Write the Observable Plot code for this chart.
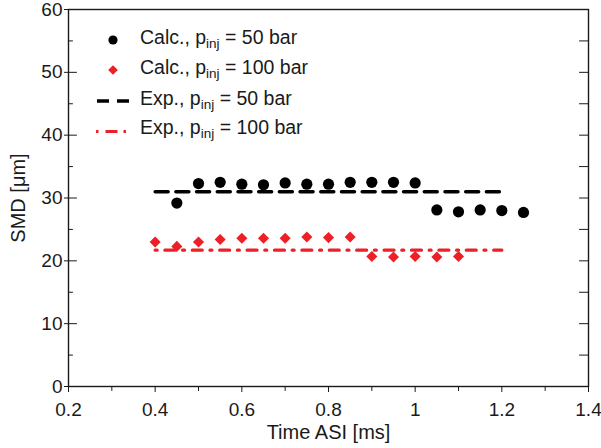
<!DOCTYPE html>
<html><head><meta charset="utf-8">
<script src="https://cdn.jsdelivr.net/npm/d3@7"></script>
<script src="https://cdn.jsdelivr.net/npm/@observablehq/plot@0.6"></script>
<style>
html,body{margin:0;padding:0;background:#fff;}
#wrap{position:relative;width:601px;height:448px;font-family:"Liberation Sans",Arial,Helvetica,sans-serif;}
#legend{position:absolute;left:0;top:0;}
</style></head><body>
<div id="wrap"></div>
<script>
// ---- data ----
const calcTime50 = [0.45,0.5,0.55,0.6,0.65,0.7,0.75,0.8,0.85,0.9,0.95,1.0,1.05,1.1,1.15,1.2,1.25];
const calc50 = [29.2,32.3,32.5,32.2,32.1,32.4,32.2,32.2,32.5,32.5,32.5,32.4,28.1,27.8,28.1,28.0,27.7];
const calcTime100 = [0.4,0.45,0.5,0.55,0.6,0.65,0.7,0.75,0.8,0.85,0.9,0.95,1.0,1.05,1.1];
const calc100 = [23.0,22.3,23.0,23.4,23.6,23.6,23.6,23.8,23.7,23.8,20.7,20.6,20.7,20.6,20.7];
const expTime = [0.4, 1.2];
const exp50 = [31.0, 31.0];
const exp100 = [21.7, 21.7];
const xTicks = [0.2,0.4,0.6,0.8,1,1.2,1.4];
const xMinor = [0.3,0.5,0.7,0.9,1.1,1.3];
const yTicks = [0,10,20,30,40,50,60];
const yMinor = [5,15,25,35,45,55];
const yRight = [5,10,15,20,25,30,35,40,45,50,55];
const legendMain = ["Calc., p","Calc., p","Exp., p","Exp., p"];
const legendSub = ["inj","inj","inj","inj"];
const legendTail = [" = 50 bar"," = 100 bar"," = 50 bar"," = 100 bar"];
const xLabel = "Time ASI [ms]";
const yLabel = "SMD [\u03bcm]";

const RED = "#eb2127";
const INK = "#1a1a1a";
const FONT = "'Liberation Sans', Arial, Helvetica, sans-serif";

const d50 = calcTime50.map((t,i)=>({t, v: calc50[i]}));
const d100 = calcTime100.map((t,i)=>({t, v: calc100[i]}));
const e50 = expTime.map((t,i)=>({t, v: exp50[i]}));
const e100 = expTime.map((t,i)=>({t, v: exp100[i]}));

const hShape = {draw(c, l){ c.moveTo(0,0); c.lineTo(l,0); }};
const hShapeLeft = {draw(c, l){ c.moveTo(0,0); c.lineTo(-l,0); }};
const vShapeDown = {draw(c, l){ c.moveTo(0,0); c.lineTo(0,l); }};

const chart = Plot.plot({
  width: 601, height: 448,
  marginLeft: 68, marginRight: 13, marginTop: 9, marginBottom: 62,
  style: {fontFamily: FONT, fontSize: "19px", color: INK, background: "#fff"},
  x: {domain: [0.2, 1.4]},
  y: {domain: [0, 60]},
  marks: [
    Plot.frame({stroke: INK, strokeWidth: 1.4}),
    Plot.axisX(xTicks, {tickSize: 6, tickPadding: 10, tickFormat: d => String(d), fontSize: 19,
      label: null}),
    Plot.axisX({tickSize: 0, fill: INK, fontSize: 20, ticks: [], label: xLabel, labelAnchor: "center", labelArrow: "none", labelOffset: 52}),
    Plot.vectorX(xMinor, {frameAnchor: "bottom", shape: vShapeDown, length: 4, anchor: "start", stroke: INK, strokeWidth: 1}),
    Plot.axisY(yTicks, {tickSize: 4, tickPadding: 2, fontSize: 19, label: null}),
    Plot.axisY({tickSize: 0, fontSize: 20, ticks: [], label: yLabel, labelAnchor: "center", labelArrow: "none", labelOffset: 58}),
    Plot.vectorY(yTicks, {frameAnchor: "left", shape: hShape, length: 8, anchor: "start", stroke: INK, strokeWidth: 1}),
    Plot.vectorY(yMinor, {frameAnchor: "left", shape: hShape, length: 4, anchor: "start", stroke: INK, strokeWidth: 1}),
    Plot.vectorY(yRight, {frameAnchor: "right", shape: hShapeLeft, length: 9, anchor: "start", stroke: INK, strokeWidth: 1}),
    Plot.line(e50, {x: "t", y: "v", stroke: "#000", strokeWidth: 3.5, strokeDasharray: "13,7.7"}),
    Plot.line(e100, {x: "t", y: "v", stroke: RED, strokeWidth: 3.2, strokeDasharray: "2,7.7,10,7.7"}),
    Plot.dot(d50, {x: "t", y: "v", r: 5.6, fill: "#000", stroke: "none"}),
    Plot.dot(d100, {x: "t", y: "v", r: 5, symbol: "diamond2", fill: RED, stroke: "none"})
  ]
});
const wrap = document.getElementById("wrap");
wrap.appendChild(chart);

// ---- legend overlay ----
const leg = d3.select(wrap).append("svg").attr("id","legend").attr("width",320).attr("height",150)
  .style("font-family", FONT);
const rowY = [40, 70, 101, 131.5];
const baseY = [43.5, 74, 104.5, 133.5];
legendMain.forEach((m, i) => {
  const g = leg.append("g");
  if (i === 0) g.append("circle").attr("cx",113).attr("cy",rowY[i]).attr("r",4.6).attr("fill","#000");
  if (i === 1) g.append("path").attr("d", d3.symbol(d3.symbolDiamond2, 60)()).attr("transform",`translate(113,${rowY[i]})`).attr("fill",RED);
  if (i === 2) g.append("line").attr("x1",97).attr("x2",129.5).attr("y1",rowY[i]).attr("y2",rowY[i])
    .attr("stroke","#000").attr("stroke-width",3.5).attr("stroke-dasharray","12,8");
  if (i === 3) g.append("line").attr("x1",96).attr("x2",126).attr("y1",rowY[i]).attr("y2",rowY[i])
    .attr("stroke",RED).attr("stroke-width",3.2).attr("stroke-dasharray","2.5,7,12,6,2.5,10");
  const t = g.append("text").attr("x",140).attr("y",baseY[i]).attr("font-size",19.5).attr("fill",INK);
  t.append("tspan").text(m);
  t.append("tspan").attr("font-size",13.5).attr("dy",4).text(legendSub[i]);
  t.append("tspan").attr("dy",-4).text(legendTail[i]);
});
</script>
</body></html>
